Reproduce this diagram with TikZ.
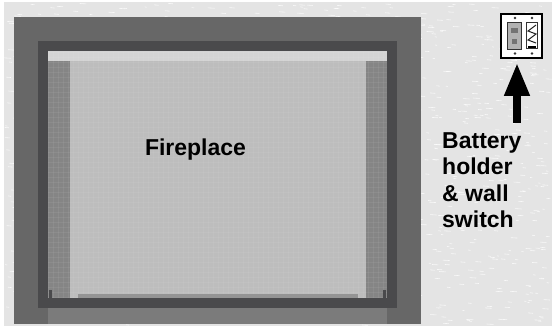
\documentclass[tikz,border=0pt]{standalone}
\usepackage{fontspec}
\setmainfont{Liberation Sans}
\usetikzlibrary{arrows.meta}
\definecolor{wallc}{HTML}{E4E4E4}
\definecolor{framec}{HTML}{676767}
\definecolor{innerc}{HTML}{4A4A4C}
\definecolor{openc}{HTML}{BDBDBD}
\definecolor{sidec}{HTML}{858585}
\definecolor{sillc}{HTML}{7B7B7B}
\definecolor{lipc}{HTML}{949494}
\definecolor{topc}{HTML}{D4D4D4}
\tikzset{
  x=1pt,y=-1pt,
  fill only/.style={draw=none,fill=#1},
  label text/.style={font=\bfseries\fontsize{23}{26.5}\selectfont,text=black,inner sep=0pt},
  screw/.style={circle,fill=black!80,draw=none,minimum size=2.8pt,inner sep=0pt},
  fleck/.style={draw=white,line width=0.6pt,opacity=0.75},
  weave/.style={draw=white,line width=0.5pt,opacity=0.06}
}
\begin{document}
\begin{tikzpicture}
\useasboundingbox (0,0) rectangle (552,329);
\fill[white] (0,0) rectangle (552,329);
\fill[wallc] (4,2) rectangle (552,326);
% wall texture
\pgfmathsetseed{42}
\foreach \i in {1,...,1400}{
  \pgfmathsetmacro{\px}{4+rnd*543}
  \pgfmathsetmacro{\py}{3+rnd*322}
  \pgfmathsetmacro{\pl}{2+rnd*5}
  \draw[fleck] (\px,\py) -- ++(\pl,0.4);
}
% fireplace
\path[fill only=framec] (14,17) rectangle (421,324);
\path[fill only=sillc] (48,308) rectangle (387,323.5);
\path[fill only=innerc] (38,41) rectangle (397,308);
\path[fill only=openc] (48,51) rectangle (387,298);
\path[fill only=topc] (48,51) rectangle (387,61);
\path[fill only=sidec] (48,61) rectangle (70,298);
\path[fill only=sidec] (366,61) rectangle (387,298);
% screen weave
\foreach \i in {0,5,...,335}{
  \draw[weave] (48+\i,52) -- (48+\i,298);
}
\foreach \i in {0,5,...,245}{
  \draw[weave] (48,52+\i) -- (387,52+\i);
}
\path[fill only=lipc] (78,294) rectangle (358,298);
\path[fill only=innerc] (49,290) rectangle (52,298);
\path[fill only=innerc] (383,290) rectangle (386,298);
\node[label text] (fire) at (195.5,150) {Fireplace};
% switch plate
\node[draw=black,line width=1.8pt,fill=white,minimum width=41pt,minimum height=44pt,inner sep=0pt] (plate) at (521.5,36) {};
\node[draw=black!80,line width=1pt,fill=black!30,minimum width=14pt,minimum height=27pt,inner sep=0pt] (rockerA) at (514.5,36) {};
\node[draw=black!80,line width=1pt,fill=white,minimum width=11pt,minimum height=26pt,inner sep=0pt] (rockerB) at (532,36) {};
\draw[black!85,line width=1pt] (536,25) -- (528,31) -- (536,34) -- (528,40) -- (536,43);
\path[fill only=black] (528,46) rectangle (536,48.5);
\path[fill only=black!55] (511,28) rectangle (518,33);
\path[fill only=black!55] (512,39) rectangle (517,44);
\node[screw] (s1) at (515,18) {};
\node[screw] (s2) at (532,18) {};
\node[screw] (s3) at (515,53.5) {};
\node[screw] (s4) at (532,53.5) {};
% arrow
\coordinate (arrowfoot) at (517,123);
\coordinate (arrowhead) at (517,63);
\draw[line width=7.5pt,black,-{Triangle[length=33pt,width=24pt]}] (arrowfoot) -- (arrowhead);
% label
\node[label text,align=left,anchor=north west] (lab) at (442,132) {Battery\\holder\\\& wall\\switch};
\end{tikzpicture}
\end{document}
